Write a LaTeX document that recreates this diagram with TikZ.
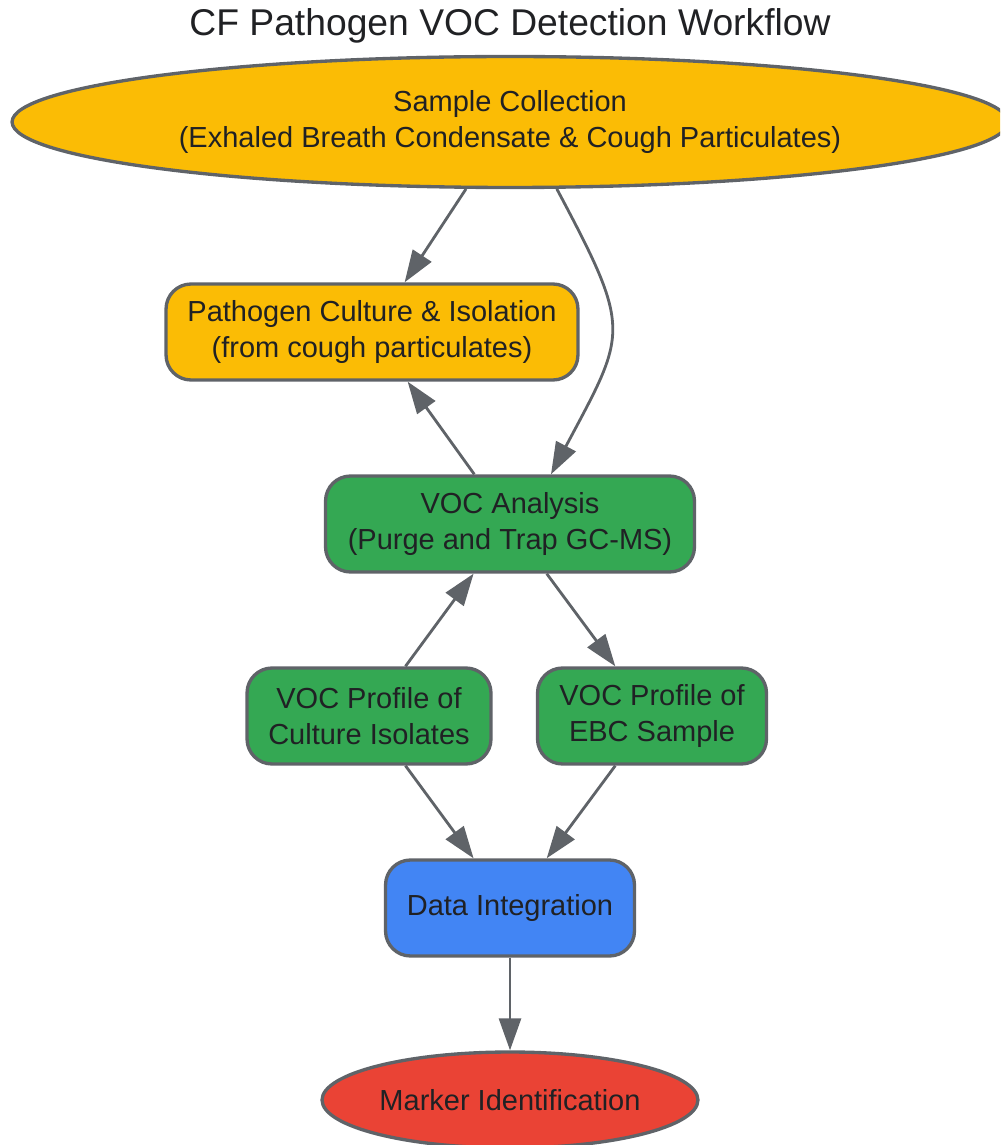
\documentclass[tikz,border=0pt]{standalone}
\usepackage{fontspec}
\setmainfont{Liberation Sans}
\usepackage{tikz}
\usetikzlibrary{shapes,arrows.meta}

\definecolor{sampleyellow}{HTML}{FBBC05}
\definecolor{vocgreen}{HTML}{34A853}
\definecolor{datablue}{HTML}{4285F4}
\definecolor{markerred}{HTML}{EA4335}
\definecolor{edgegray}{HTML}{5F6368}
\definecolor{textdark}{HTML}{202124}

\newcommand{\boxfont}{\fontsize{16.5}{20.5}\selectfont}

\begin{document}
\begin{tikzpicture}[x=0.02cm,y=-0.02cm,->,>={Triangle[length=0.64cm,width=0.44cm]},
                    line width=1.6pt,color=edgegray,
                    stage/.style={rectangle,rounded corners=0.5cm,draw=edgegray,line width=1.9pt,
                                  text=textdark,font=\boxfont,align=center,inner sep=0pt,
                                  minimum height=1.92cm},
                    term/.style={ellipse,draw=edgegray,line width=1.9pt,text=textdark,
                                 font=\boxfont,align=center,inner sep=0pt}]

  \useasboundingbox (0,0) rectangle (1000,1145);
  \clip (0,0) rectangle (1000,1145);

  \node[text=textdark,font=\fontsize{21.2}{25}\selectfont] (title) at (510,26)
       {CF Pathogen VOC Detection Workflow};

  \node[term,fill=sampleyellow,minimum width=19.92cm,minimum height=2.62cm] (sample) at (510,122)
       {Sample Collection\\(Exhaled Breath Condensate \& Cough Particulates)};
  \node[stage,fill=sampleyellow,minimum width=8.24cm] (culture)  at (372,332)
       {Pathogen Culture \& Isolation\\(from cough particulates)};
  \node[stage,fill=vocgreen,minimum width=7.38cm]     (voc)      at (510,524)
       {VOC Analysis\\(Purge and Trap GC-MS)};
  \node[stage,fill=vocgreen,minimum width=4.88cm]     (isolates) at (369,716)
       {VOC Profile of\\Culture Isolates};
  \node[stage,fill=vocgreen,minimum width=4.58cm]     (ebc)      at (652,716)
       {VOC Profile of\\EBC Sample};
  \node[stage,fill=datablue,minimum width=4.98cm]     (data)     at (510,908)
       {Data Integration};
  \node[term,fill=markerred,minimum width=7.52cm,minimum height=1.92cm] (marker) at (510,1100)
       {Marker Identification};

  \path (sample)   edge (culture)
        (sample.-55) edge[out=-62,in=62,looseness=1.45] ([xshift=0.82cm]voc.north)
        (voc)      edge (culture)
                   edge (ebc)
        (isolates) edge (voc)
                   edge (data)
        (ebc)      edge (data)
        (data)     edge (marker);
\end{tikzpicture}
\end{document}
